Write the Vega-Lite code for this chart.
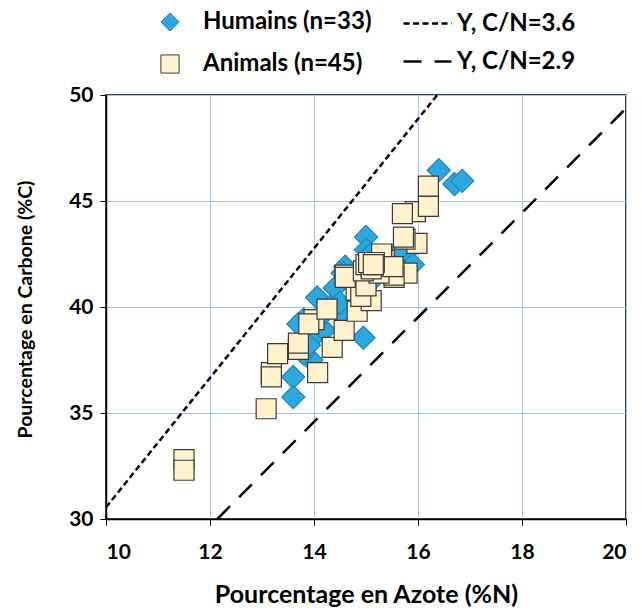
{
  "$schema": "https://vega.github.io/schema/vega-lite/v6.json",
  "autosize": "none",
  "width": 520,
  "height": 424,
  "padding": {"left": 106, "top": 95, "right": 15, "bottom": 93},
  "background": "white",
  "config": {
    "font": "Lato",
    "view": {"stroke": "black", "strokeWidth": 1.5},
    "axis": {
      "labelFont": "Lato",
      "labelFontSize": 21,
      "labelFontWeight": "bold",
      "labelColor": "black",
      "titleFont": "Lato",
      "titleFontWeight": "bold",
      "titleColor": "black",
      "domainColor": "black",
      "domainWidth": 1.5,
      "tickColor": "black",
      "tickSize": 6,
      "tickWidth": 1,
      "gridColor": "#A2C4EA",
      "gridWidth": 1,
      "gridOpacity": 1
    },
    "legend": {
      "labelFont": "Lato",
      "labelFontSize": 24,
      "labelFontWeight": "bold",
      "labelColor": "black",
      "labelLimit": 300,
      "padding": 0
    }
  },
  "datasets": {
    "hum": [
      {"N": 16.4, "C": 46.45, "g": "Humains (n=33)"},
      {"N": 16.7, "C": 45.8, "g": "Humains (n=33)"},
      {"N": 16.85, "C": 45.95, "g": "Humains (n=33)"},
      {"N": 15.0, "C": 43.3, "g": "Humains (n=33)"},
      {"N": 15.0, "C": 42.7, "g": "Humains (n=33)"},
      {"N": 15.1, "C": 42.5, "g": "Humains (n=33)"},
      {"N": 15.75, "C": 42.5, "g": "Humains (n=33)"},
      {"N": 15.6, "C": 42.6, "g": "Humains (n=33)"},
      {"N": 14.6, "C": 41.9, "g": "Humains (n=33)"},
      {"N": 14.55, "C": 41.6, "g": "Humains (n=33)"},
      {"N": 14.4, "C": 40.9, "g": "Humains (n=33)"},
      {"N": 14.06, "C": 40.45, "g": "Humains (n=33)"},
      {"N": 13.8, "C": 39.4, "g": "Humains (n=33)"},
      {"N": 14.0, "C": 38.6, "g": "Humains (n=33)"},
      {"N": 14.95, "C": 38.55, "g": "Humains (n=33)"},
      {"N": 14.6, "C": 39.5, "g": "Humains (n=33)"},
      {"N": 13.6, "C": 36.7, "g": "Humains (n=33)"},
      {"N": 13.6, "C": 35.75, "g": "Humains (n=33)"},
      {"N": 13.95, "C": 37.5, "g": "Humains (n=33)"},
      {"N": 13.8, "C": 37.8, "g": "Humains (n=33)"},
      {"N": 13.7, "C": 39.2, "g": "Humains (n=33)"},
      {"N": 14.2, "C": 38.9, "g": "Humains (n=33)"},
      {"N": 15.3, "C": 42.3, "g": "Humains (n=33)"},
      {"N": 15.5, "C": 42.0, "g": "Humains (n=33)"},
      {"N": 14.8, "C": 41.0, "g": "Humains (n=33)"},
      {"N": 15.2, "C": 41.5, "g": "Humains (n=33)"},
      {"N": 14.3, "C": 40.0, "g": "Humains (n=33)"},
      {"N": 13.9, "C": 38.2, "g": "Humains (n=33)"},
      {"N": 14.2, "C": 39.7, "g": "Humains (n=33)"},
      {"N": 15.4, "C": 41.8, "g": "Humains (n=33)"},
      {"N": 15.9, "C": 42.0, "g": "Humains (n=33)"},
      {"N": 14.5, "C": 40.2, "g": "Humains (n=33)"},
      {"N": 15.1, "C": 41.2, "g": "Humains (n=33)"}
    ],
    "ani": [
      {"N": 11.5, "C": 32.8, "g": "Animals (n=45)"},
      {"N": 11.5, "C": 32.3, "g": "Animals (n=45)"},
      {"N": 13.08, "C": 35.2, "g": "Animals (n=45)"},
      {"N": 13.18, "C": 36.9, "g": "Animals (n=45)"},
      {"N": 13.18, "C": 36.7, "g": "Animals (n=45)"},
      {"N": 13.3, "C": 37.8, "g": "Animals (n=45)"},
      {"N": 13.7, "C": 38.0, "g": "Animals (n=45)"},
      {"N": 13.7, "C": 38.3, "g": "Animals (n=45)"},
      {"N": 14.07, "C": 36.9, "g": "Animals (n=45)"},
      {"N": 14.0, "C": 39.4, "g": "Animals (n=45)"},
      {"N": 13.9, "C": 39.2, "g": "Animals (n=45)"},
      {"N": 14.35, "C": 38.1, "g": "Animals (n=45)"},
      {"N": 14.58, "C": 38.9, "g": "Animals (n=45)"},
      {"N": 14.25, "C": 39.9, "g": "Animals (n=45)"},
      {"N": 14.83, "C": 39.8, "g": "Animals (n=45)"},
      {"N": 15.1, "C": 40.3, "g": "Animals (n=45)"},
      {"N": 14.81, "C": 40.8, "g": "Animals (n=45)"},
      {"N": 14.9, "C": 40.5, "g": "Animals (n=45)"},
      {"N": 15.0, "C": 41.0, "g": "Animals (n=45)"},
      {"N": 14.6, "C": 41.5, "g": "Animals (n=45)"},
      {"N": 14.6, "C": 41.4, "g": "Animals (n=45)"},
      {"N": 15.54, "C": 41.4, "g": "Animals (n=45)"},
      {"N": 15.55, "C": 41.7, "g": "Animals (n=45)"},
      {"N": 15.79, "C": 41.6, "g": "Animals (n=45)"},
      {"N": 15.54, "C": 41.5, "g": "Animals (n=45)"},
      {"N": 15.25, "C": 41.6, "g": "Animals (n=45)"},
      {"N": 14.95, "C": 41.7, "g": "Animals (n=45)"},
      {"N": 15.0, "C": 42.0, "g": "Animals (n=45)"},
      {"N": 15.1, "C": 41.9, "g": "Animals (n=45)"},
      {"N": 15.1, "C": 41.8, "g": "Animals (n=45)"},
      {"N": 15.2, "C": 42.0, "g": "Animals (n=45)"},
      {"N": 15.05, "C": 42.1, "g": "Animals (n=45)"},
      {"N": 15.35, "C": 42.2, "g": "Animals (n=45)"},
      {"N": 15.3, "C": 42.3, "g": "Animals (n=45)"},
      {"N": 15.3, "C": 42.5, "g": "Animals (n=45)"},
      {"N": 15.52, "C": 41.9, "g": "Animals (n=45)"},
      {"N": 15.16, "C": 42.1, "g": "Animals (n=45)"},
      {"N": 15.14, "C": 42.0, "g": "Animals (n=45)"},
      {"N": 15.98, "C": 43.0, "g": "Animals (n=45)"},
      {"N": 15.75, "C": 43.2, "g": "Animals (n=45)"},
      {"N": 15.72, "C": 43.3, "g": "Animals (n=45)"},
      {"N": 15.95, "C": 44.5, "g": "Animals (n=45)"},
      {"N": 15.7, "C": 44.4, "g": "Animals (n=45)"},
      {"N": 16.2, "C": 44.75, "g": "Animals (n=45)"},
      {"N": 16.2, "C": 45.7, "g": "Animals (n=45)"}
    ],
    "lines": [
      {"N": 10.0, "C": 30.55, "line": "Y, C/N=3.6"},
      {"N": 16.37, "C": 50.0, "line": "Y, C/N=3.6"},
      {"N": 12.14, "C": 30.0, "line": "Y, C/N=2.9"},
      {"N": 20.0, "C": 49.37, "line": "Y, C/N=2.9"}
    ]
  },
  "encoding": {
    "x": {
      "field": "N", "type": "quantitative",
      "scale": {"domain": [10, 20], "nice": false, "zero": false},
      "axis": {"values": [10, 12, 14, 16, 18, 20], "labelPadding": 16, "title": "Pourcentage en Azote (%N)", "titleFontSize": 25, "titlePadding": 20}
    },
    "y": {
      "field": "C", "type": "quantitative",
      "scale": {"domain": [30, 50], "nice": false, "zero": false},
      "axis": {"values": [30, 35, 40, 45, 50], "labelPadding": 7, "title": "Pourcentage en Carbone (%C)", "titleFontSize": 19.5, "titleX": -71, "titleY": 214}
    }
  },
  "layer": [
    {
      "data": {"name": "lines"},
      "mark": {"type": "line", "color": "black", "strokeWidth": 2.5, "strokeCap": "butt"},
      "encoding": {
        "strokeDash": {
          "field": "line", "type": "nominal",
          "scale": {"domain": ["Y, C/N=3.6", "Y, C/N=2.9"], "range": [[6, 3.5], [18, 13]]},
          "legend": {
            "title": null, "orient": "none", "legendX": 296, "legendY": -97,
            "symbolType": "stroke", "symbolSize": 2300, "symbolStrokeWidth": 2.5,
            "symbolStrokeColor": "black", "labelOffset": 4, "rowPadding": -7
          }
        }
      }
    },
    {
      "data": {"name": "hum"},
      "mark": {"type": "point", "filled": true, "opacity": 1, "strokeWidth": 1.2, "size": 540},
      "encoding": {
        "shape": {
          "field": "g", "type": "nominal",
          "scale": {"domain": ["Humains (n=33)", "Animals (n=45)"], "range": ["diamond", "square"]},
          "legend": {"title": null, "orient": "none", "legendX": 52, "legendY": -85, "rowPadding": 18, "labelOffset": 21, "symbolSize": 330, "symbolStrokeWidth": 1}
        },
        "fill": {
          "field": "g", "type": "nominal",
          "scale": {"domain": ["Humains (n=33)", "Animals (n=45)"], "range": ["#2CA8E0", "#FFF2CC"]},
          "legend": {"title": null, "orient": "none", "legendX": 52, "legendY": -85, "rowPadding": 18, "labelOffset": 21, "symbolSize": 330, "symbolStrokeWidth": 1}
        },
        "stroke": {
          "field": "g", "type": "nominal",
          "scale": {"domain": ["Humains (n=33)", "Animals (n=45)"], "range": ["#1E86BE", "#3B3B3B"]},
          "legend": {"title": null, "orient": "none", "legendX": 52, "legendY": -85, "rowPadding": 18, "labelOffset": 21, "symbolSize": 330, "symbolStrokeWidth": 1}
        }
      }
    },
    {
      "data": {"name": "ani"},
      "mark": {"type": "point", "filled": true, "opacity": 1, "strokeWidth": 1.2, "size": 400},
      "encoding": {
        "shape": {"field": "g", "type": "nominal"},
        "fill": {"field": "g", "type": "nominal"},
        "stroke": {"field": "g", "type": "nominal"}
      }
    }
  ]
}
